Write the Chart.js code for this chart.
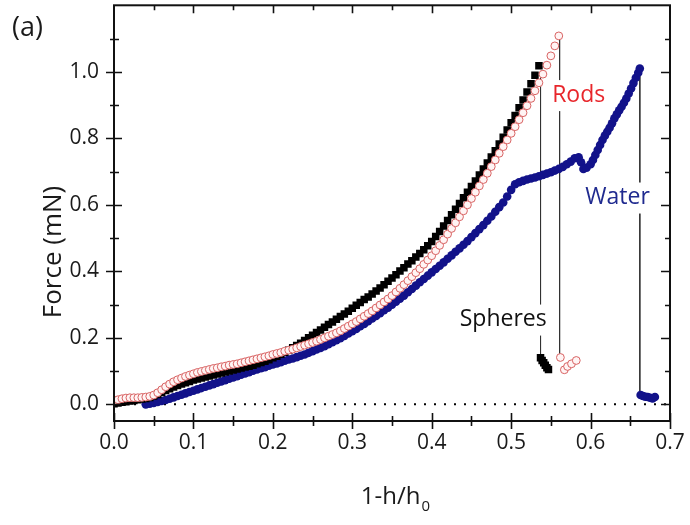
<!DOCTYPE html>
<html>
<head>
<meta charset="utf-8">
<script src="https://cdn.jsdelivr.net/npm/chart.js@4.4.1/dist/chart.umd.min.js"></script>
<style>
  html, body { margin: 0; padding: 0; background: #fff; }
  #wrap { width: 690px; height: 525px; }
</style>
</head>
<body>
<div id="wrap"><canvas id="c" width="690" height="525"></canvas></div>
<script>
// ---------------- data ----------------
const xTickValues = [0.0, 0.1, 0.2, 0.3, 0.4, 0.5, 0.6, 0.7];
const yTickValues = [0.0, 0.2, 0.4, 0.6, 0.8, 1.0];

const spheresX = [0.000,0.005,0.010,0.015,0.020,0.025,0.030,0.035,0.040,0.045,0.050,0.055,0.060,0.065,0.070,0.075,0.080,0.085,0.090,0.095,
  0.100,0.105,0.110,0.115,0.120,0.125,0.130,0.135,0.140,0.145,0.150,0.155,0.160,0.165,0.170,0.175,0.180,0.185,0.190,0.195,
  0.200,0.205,0.210,0.215,0.220,0.225,0.230,0.235,0.240,0.245,0.250,0.255,0.260,0.265,0.270,0.275,0.280,0.285,0.290,0.295,
  0.300,0.305,0.310,0.315,0.320,0.325,0.330,0.335,0.340,0.345,0.350,0.355,0.360,0.365,0.370,0.375,0.380,0.385,0.390,0.395,
  0.400,0.405,0.410,0.415,0.420,0.425,0.430,0.435,0.440,0.445,0.450,0.455,0.460,0.465,0.470,0.475,0.480,0.485,0.490,0.495,
  0.500,0.505,0.510,0.515,0.520,0.525,0.530,0.535,
  0.537,0.539,0.541,0.543,0.545,0.547];
const spheresY = [0.002,0.004,0.006,0.008,0.010,0.012,0.014,0.016,0.018,0.021,0.025,0.030,0.036,0.042,0.047,0.052,0.057,0.061,0.065,0.069,
  0.073,0.076,0.079,0.082,0.085,0.088,0.091,0.094,0.097,0.100,0.103,0.106,0.109,0.112,0.115,0.118,0.122,0.126,0.130,0.134,
  0.140,0.145,0.151,0.157,0.163,0.170,0.177,0.184,0.192,0.200,0.208,0.216,0.224,0.232,0.240,0.248,0.256,0.264,0.272,0.280,
  0.289,0.298,0.306,0.315,0.323,0.332,0.341,0.350,0.360,0.370,0.380,0.390,0.401,0.411,0.422,0.432,0.443,0.454,0.465,0.477,
  0.490,0.505,0.520,0.536,0.553,0.570,0.587,0.604,0.621,0.638,0.655,0.672,0.690,0.708,0.726,0.744,0.763,0.783,0.803,0.825,
  0.847,0.869,0.892,0.915,0.939,0.964,0.990,1.018,
  0.140,0.132,0.125,0.118,0.110,0.105];

const rodsX = [0.000,0.005,0.010,0.015,0.020,0.025,0.030,0.035,0.040,0.045,0.050,0.055,0.060,0.065,0.070,0.075,0.080,0.085,0.090,0.095,
  0.100,0.105,0.110,0.115,0.120,0.125,0.130,0.135,0.140,0.145,0.150,0.155,0.160,0.165,0.170,0.175,0.180,0.185,0.190,0.195,
  0.200,0.205,0.210,0.215,0.220,0.225,0.230,0.235,0.240,0.245,0.250,0.255,0.260,0.265,0.270,0.275,0.280,0.285,0.290,0.295,
  0.300,0.305,0.310,0.315,0.320,0.325,0.330,0.335,0.340,0.345,0.350,0.355,0.360,0.365,0.370,0.375,0.380,0.385,0.390,0.395,
  0.400,0.405,0.410,0.415,0.420,0.425,0.430,0.435,0.440,0.445,0.450,0.455,0.460,0.465,0.470,0.475,0.480,0.485,0.490,0.495,
  0.500,0.505,0.510,0.515,0.520,0.525,0.530,0.535,0.540,0.545,0.550,0.555,0.560,
  0.562,0.567,0.571,0.576,0.582];
const rodsY = [0.010,0.014,0.017,0.019,0.020,0.020,0.020,0.021,0.022,0.024,0.028,0.035,0.044,0.053,0.061,0.068,0.074,0.079,0.084,0.088,
  0.092,0.096,0.099,0.102,0.105,0.108,0.110,0.113,0.115,0.118,0.120,0.122,0.125,0.128,0.131,0.134,0.137,0.140,0.143,0.146,
  0.150,0.153,0.156,0.160,0.163,0.166,0.170,0.174,0.178,0.182,0.186,0.190,0.195,0.200,0.205,0.210,0.215,0.221,0.228,0.235,
  0.242,0.249,0.257,0.265,0.273,0.281,0.290,0.299,0.308,0.317,0.327,0.338,0.349,0.360,0.372,0.384,0.396,0.408,0.421,0.434,
  0.447,0.462,0.478,0.495,0.512,0.529,0.546,0.564,0.582,0.600,0.619,0.638,0.657,0.676,0.695,0.715,0.735,0.755,0.775,0.795,
  0.815,0.835,0.856,0.877,0.898,0.920,0.943,0.967,0.993,1.020,1.048,1.078,1.108,
  0.141,0.104,0.114,0.122,0.132];

const waterX = [0.040,0.045,0.050,0.055,0.060,0.065,0.070,0.075,0.080,0.085,0.090,0.095,
  0.100,0.105,0.110,0.115,0.120,0.125,0.130,0.135,0.140,0.145,0.150,0.155,0.160,0.165,0.170,0.175,0.180,0.185,0.190,0.195,
  0.200,0.205,0.210,0.215,0.220,0.225,0.230,0.235,0.240,0.245,0.250,0.255,0.260,0.265,0.270,0.275,0.280,0.285,0.290,0.295,
  0.300,0.305,0.310,0.315,0.320,0.325,0.330,0.335,0.340,0.345,0.350,0.355,0.360,0.365,0.370,0.375,0.380,0.385,0.390,0.395,
  0.400,0.405,0.410,0.415,0.420,0.425,0.430,0.435,0.440,0.445,0.450,0.455,0.460,0.465,0.470,0.475,0.480,0.485,0.490,0.495,
  0.500,0.505,0.510,0.515,0.520,0.525,0.530,0.535,0.540,0.545,0.550,0.555,0.560,0.565,0.570,0.575,0.580,0.585,0.588,0.591,
  0.595,0.600,0.603,0.606,0.609,0.612,0.615,0.618,0.621,0.624,0.627,0.630,0.633,0.636,0.639,0.642,0.645,0.648,0.651,0.654,
  0.657,0.660,0.662,
  0.663,0.666,0.669,0.672,0.675,0.678,0.681];
const waterY = [0.000,0.002,0.004,0.007,0.010,0.013,0.017,0.021,0.025,0.029,0.033,0.037,
  0.041,0.045,0.049,0.053,0.057,0.061,0.065,0.069,0.073,0.077,0.081,0.085,0.089,0.093,0.097,0.101,0.105,0.109,0.112,0.116,
  0.120,0.123,0.127,0.131,0.135,0.138,0.142,0.146,0.150,0.155,0.160,0.165,0.170,0.175,0.181,0.187,0.193,0.199,0.206,0.213,
  0.220,0.227,0.235,0.242,0.250,0.258,0.266,0.274,0.283,0.291,0.300,0.309,0.318,0.327,0.337,0.347,0.357,0.367,0.377,0.387,
  0.397,0.407,0.417,0.427,0.438,0.448,0.459,0.469,0.480,0.491,0.503,0.515,0.527,0.539,0.552,0.565,0.579,0.593,0.607,0.625,
  0.645,0.662,0.668,0.672,0.676,0.679,0.682,0.686,0.690,0.694,0.698,0.703,0.708,0.714,0.722,0.730,0.740,0.743,0.728,0.708,
  0.712,0.722,0.735,0.750,0.765,0.780,0.795,0.808,0.820,0.832,0.845,0.860,0.872,0.884,0.895,0.907,0.920,0.935,0.950,0.966,
  0.982,0.997,1.010,
  0.028,0.025,0.023,0.022,0.020,0.018,0.022];

// thin vertical lines joining each peak to its post-rupture points
const dropLineX      = [0.537, 0.561, 0.662];
const dropLineTop    = [1.000, 1.100, 0.990];
const dropLineBottom = [0.146, 0.150, 0.030];

// curve labels (text, data-space anchor)
const labelText = ["Spheres", "Rods", "Water"];
const labelX    = [0.490, 0.585, 0.634];
const labelY    = [0.255, 0.930, 0.622];
const labelColor = ["#111111", "#e8262b", "#1f2a8f"];

// ---------------- build ----------------
const pts = (xs, ys) => xs.map((x, i) => ({ x: x, y: ys[i] }));
const FONT = "'Open Sans', 'DejaVu Sans', sans-serif";

const datasets = [
  { label: 'Rods', data: pts(rodsX, rodsY), showLine: false, order: 1,
    pointStyle: 'circle', pointRadius: 3.9, pointBorderWidth: 1,
    pointBorderColor: 'rgba(214,92,92,0.95)', pointBackgroundColor: 'rgba(255,244,244,1)' },
  { label: 'Spheres', data: pts(spheresX, spheresY), showLine: false, order: 2,
    pointStyle: 'rect', pointRadius: 5.3, pointBorderWidth: 0,
    pointBorderColor: '#000', pointBackgroundColor: '#000' },
  { label: 'Water', data: pts(waterX, waterY), showLine: false, order: 3,
    pointStyle: 'circle', pointRadius: 4.3, pointBorderWidth: 0,
    pointBorderColor: '#12128a', pointBackgroundColor: '#12128a' }
];
dropLineX.forEach((x, i) => {
  datasets.push({ label: 'drop' + i, data: [{ x: x, y: dropLineTop[i] }, { x: x, y: dropLineBottom[i] }],
    showLine: true, pointRadius: 0, borderColor: '#333', borderWidth: 1, order: 4 });
});
datasets.push({ label: 'zero', data: [{ x: xTickValues[0], y: 0 }, { x: xTickValues[xTickValues.length - 1], y: 0 }],
  showLine: true, pointRadius: 0, borderColor: '#000', borderWidth: 2, borderDash: [2, 8], order: 5 });

const framePlugin = {
  id: 'frame',
  afterDatasetsDraw(chart) {
    const ctx = chart.ctx, xs = chart.scales.x, ys = chart.scales.y;
    ctx.save();
    ctx.font = "23px " + FONT;
    ctx.textAlign = 'center';
    ctx.textBaseline = 'middle';
    labelText.forEach((t, i) => {
      const px = xs.getPixelForValue(labelX[i]), py = ys.getPixelForValue(labelY[i]);
      const w = ctx.measureText(t).width;
      ctx.fillStyle = '#fff';
      ctx.fillRect(px - w / 2 - 2, py - 15, w + 4, 31);
      ctx.fillStyle = labelColor[i];
      ctx.fillText(t, px, py);
    });
    ctx.restore();
  },
  afterDraw(chart) {
    const ctx = chart.ctx, a = chart.chartArea, xs = chart.scales.x, ys = chart.scales.y;
    ctx.save();
    ctx.strokeStyle = '#111';
    ctx.lineWidth = 2;
    ctx.strokeRect(a.left, a.top, a.right - a.left, a.bottom - a.top);
    ctx.lineWidth = 1.6;
    ctx.beginPath();
    for (let k = 0; k <= 14; k++) {
      const v = k * 0.05, px = Math.round(xs.getPixelForValue(v)) + 0.5;
      const major = k % 2 === 0;
      ctx.moveTo(px, a.bottom - (major ? 8 : 5)); ctx.lineTo(px, a.bottom + (major ? 8 : 5));
      if (k > 0 && k < 14) { ctx.moveTo(px, a.top); ctx.lineTo(px, a.top + (major ? 8 : 5)); }
    }
    for (let k = 0; k <= 11; k++) {
      const v = k * 0.1, py = Math.round(ys.getPixelForValue(v)) + 0.5;
      const major = k % 2 === 0;
      ctx.moveTo(a.left - (major ? 8 : 4), py); ctx.lineTo(a.left + (major ? 8 : 5), py);
      ctx.moveTo(a.right, py); ctx.lineTo(a.right - (major ? 9 : 5), py);
    }
    ctx.stroke();
    ctx.fillStyle = '#1a1a1a';
    ctx.font = "27px " + FONT;
    ctx.textAlign = 'left'; ctx.textBaseline = 'middle';
    ctx.fillText('(a)', 12, 28);
    ctx.save();
    ctx.translate(54, 252);
    ctx.rotate(-Math.PI / 2);
    ctx.textAlign = 'center';
    ctx.font = "26px " + FONT;
    ctx.fillText('Force (mN)', 0, 0);
    ctx.restore();
    ctx.font = "24px " + FONT;
    const main = '1-h/h', wMain = ctx.measureText(main).width;
    ctx.font = "15px " + FONT;
    const wSub = ctx.measureText('0').width;
    const cx = (a.left + a.right) / 2 + 3;
    const x0 = cx - (wMain + wSub) / 2;
    ctx.textAlign = 'left'; ctx.textBaseline = 'alphabetic';
    ctx.font = "24px " + FONT;
    ctx.fillText(main, x0, 504);
    ctx.font = "15px " + FONT;
    ctx.fillText('0', x0 + wMain + 1, 511);
    ctx.restore();
  }
};

new Chart(document.getElementById('c'), {
  type: 'scatter',
  data: { datasets: datasets },
  options: {
    responsive: false,
    animation: false,
    events: [],
    layout: { padding: { top: 4, right: 20, left: 0, bottom: 0 } },
    plugins: { legend: { display: false }, tooltip: { enabled: false } },
    scales: {
      x: {
        type: 'linear', min: 0, max: 0.7,
        afterFit: s => { s.height = 104; s.paddingLeft = 0; s.paddingRight = 0; },
        afterBuildTicks: s => { s.ticks = xTickValues.map(v => ({ value: v })); },
        ticks: { callback: v => v.toFixed(1), font: { family: FONT, size: 21 }, color: '#1a1a1a', padding: 9, maxRotation: 0, autoSkip: false },
        grid: { display: false, drawTicks: false },
        border: { display: false }
      },
      y: {
        type: 'linear', min: -0.05, max: 1.2,
        afterFit: s => { s.width = 114; s.paddingTop = 0; s.paddingBottom = 0; },
        afterBuildTicks: s => { s.ticks = yTickValues.map(v => ({ value: v })); },
        ticks: { callback: v => v.toFixed(1), font: { family: FONT, size: 21 }, color: '#1a1a1a', padding: 15, autoSkip: false },
        grid: { display: false, drawTicks: false },
        border: { display: false }
      }
    }
  },
  plugins: [framePlugin]
});
</script>
</body>
</html>
